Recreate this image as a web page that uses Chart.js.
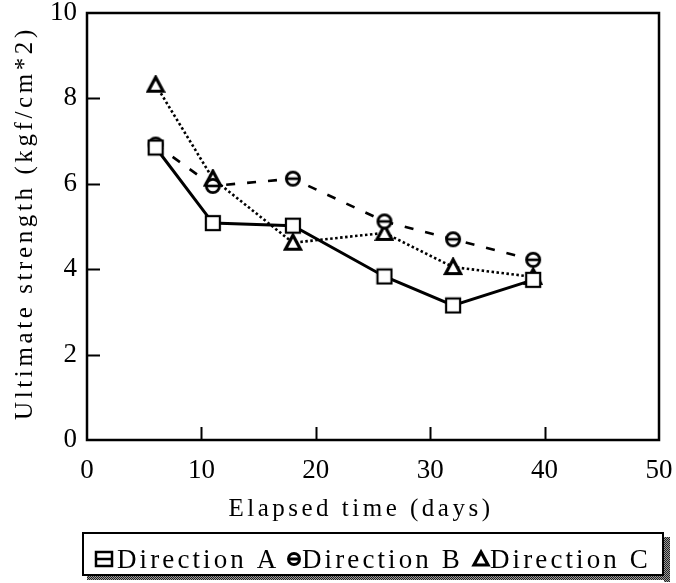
<!DOCTYPE html>
<html>
<head>
<meta charset="utf-8">
<script src="https://cdn.jsdelivr.net/npm/chart.js@4/dist/chart.umd.min.js"></script>
<style>
  html, body { margin: 0; padding: 0; background: #ffffff; }
  canvas { display: block; }
</style>
</head>
<body>
<canvas id="chart" width="676" height="583"></canvas>
<script>
// Elapsed time (days) at which each specimen set was tested
const days = [6, 11, 18, 26, 32, 39];
// Ultimate strength (kgf/cm*2) per loading direction
const directionA = [6.85, 5.08, 5.02, 3.83, 3.15, 3.75];
const directionB = [6.92, 5.95, 6.12, 5.12, 4.70, 4.22];
const directionC = [8.32, 6.12, 4.62, 4.85, 4.05, 3.82];
const seriesNames = ['Direction A', 'Direction B', 'Direction C'];
const xTicks = [0, 10, 20, 30, 40, 50];
const yTicks = [0, 2, 4, 6, 8, 10];
const xTitle = 'Elapsed time (days)';
const yTitle = 'Ultimate strength (kgf/cm*2)';

const INK = '#000000';
const TICK_FONT = '"Liberation Serif", "Times New Roman", serif';
const TEXT_FONT = '"Liberation Serif", "Times New Roman", serif';

// ---- marker sprites -------------------------------------------------------
function sprite(size, draw) {
  const c = document.createElement('canvas');
  c.width = size; c.height = size;
  const g = c.getContext('2d');
  g.strokeStyle = INK; g.fillStyle = '#ffffff';
  draw(g, size);
  return c;
}
const squareMark = sprite(18, (g) => {
  g.lineWidth = 2.2;
  g.fillRect(2, 2, 14, 14);
  g.strokeRect(2, 2, 14, 14);
});
const circleMark = sprite(18, (g) => {
  g.lineWidth = 2.8;
  g.beginPath(); g.arc(9, 9, 6.6, 0, Math.PI * 2); g.fill(); g.stroke();
  g.lineWidth = 2.6;
  g.beginPath(); g.moveTo(3, 9); g.lineTo(15, 9); g.stroke();
});
const triangleMark = sprite(20, (g) => {
  g.lineWidth = 3.2;
  g.lineJoin = 'miter';
  g.beginPath(); g.moveTo(10, 2.5); g.lineTo(17.5, 16.5); g.lineTo(2.5, 16.5); g.closePath();
  g.fill(); g.stroke();
});

function points(ys) { return days.map((d, i) => ({ x: d, y: ys[i] })); }

// ---- plot frame, inward ticks, axis titles and legend ---------------------
const framePlugin = {
  id: 'frame',
  afterDraw(chart) {
    const { ctx, chartArea: a, scales } = chart;
    ctx.save();
    ctx.strokeStyle = INK;
    ctx.lineWidth = 2.5;
    ctx.strokeRect(a.left, a.top, a.right - a.left, a.bottom - a.top);

    // inward tick marks
    ctx.lineWidth = 2;
    ctx.beginPath();
    xTicks.slice(1, -1).forEach(v => {
      const px = Math.round(scales.x.getPixelForValue(v)) + 0.5;
      ctx.moveTo(px, a.bottom); ctx.lineTo(px, a.bottom - 13);
    });
    yTicks.slice(1, -1).forEach(v => {
      const py = Math.round(scales.y.getPixelForValue(v)) + 0.5;
      ctx.moveTo(a.left, py); ctx.lineTo(a.left + 13, py);
    });
    ctx.stroke();

    // axis titles
    ctx.fillStyle = INK;
    ctx.font = '25px ' + TEXT_FONT;
    ctx.textBaseline = 'alphabetic';
    ctx.textAlign = 'center';
    ctx.letterSpacing = '3.5px';
    ctx.fillText(xTitle, 361, 516);
    ctx.save();
    ctx.translate(32, 223);
    ctx.rotate(-Math.PI / 2);
    ctx.letterSpacing = '3.6px';
    ctx.fillText(yTitle, 0, 0);
    ctx.restore();

    // legend box with its shadow
    const box = { x: 83, y: 533, w: 580, h: 42 };
    const shade = document.createElement('canvas');
    shade.width = 2; shade.height = 2;
    const sg = shade.getContext('2d');
    sg.fillStyle = '#222'; sg.fillRect(0, 0, 1, 1); sg.fillRect(1, 1, 1, 1);
    sg.fillStyle = '#9a9a9a'; sg.fillRect(1, 0, 1, 1); sg.fillRect(0, 1, 1, 1);
    ctx.fillStyle = ctx.createPattern(shade, 'repeat');
    ctx.fillRect(box.x + box.w + 1, box.y + 4, 6, box.h + 3);
    ctx.fillRect(box.x + 4, box.y + box.h + 1, box.w + 3, 4);
    ctx.fillStyle = '#ffffff';
    ctx.fillRect(box.x, box.y, box.w, box.h);
    ctx.lineWidth = 2;
    ctx.strokeStyle = INK;
    ctx.strokeRect(box.x, box.y, box.w, box.h);

    const base = 568;
    const items = [
      { sym: 'square', sx: 104, tx: 117 },
      { sym: 'circle', sx: 294, tx: 302 },
      { sym: 'triangle', sx: 481, tx: 490 }
    ];
    ctx.font = '27px ' + TEXT_FONT;
    ctx.letterSpacing = '3.1px';
    ctx.textAlign = 'left';
    ctx.fillStyle = INK;
    items.forEach((it, i) => {
      const cy = 559;
      ctx.lineWidth = 2.5;
      ctx.strokeStyle = INK;
      if (it.sym === 'square') {
        ctx.strokeRect(it.sx - 8, cy - 7, 16, 14);
        ctx.beginPath(); ctx.moveTo(it.sx - 8, cy); ctx.lineTo(it.sx + 8, cy); ctx.stroke();
      } else if (it.sym === 'circle') {
        ctx.lineWidth = 3;
        ctx.beginPath(); ctx.arc(it.sx, cy, 5.5, 0, Math.PI * 2); ctx.stroke();
        ctx.beginPath(); ctx.moveTo(it.sx - 6, cy); ctx.lineTo(it.sx + 6, cy); ctx.stroke();
      } else {
        ctx.lineWidth = 3.2;
        ctx.beginPath();
        ctx.moveTo(it.sx, cy - 7); ctx.lineTo(it.sx + 7, cy + 6); ctx.lineTo(it.sx - 7, cy + 6);
        ctx.closePath(); ctx.stroke();
      }
      ctx.fillText(seriesNames[i], it.tx, base);
    });
    ctx.letterSpacing = '0px';
    ctx.restore();
  }
};

// tick marks are drawn inward by the plugin; the library's own tick length
// only serves as spacing between axis line and labels
const hiddenGrid = (len) => ({
  display: true, drawOnChartArea: false, drawTicks: true,
  tickLength: len, color: 'rgba(0,0,0,0)'
});

new Chart(document.getElementById('chart'), {
  type: 'line',
  data: {
    datasets: [
      {
        label: seriesNames[0], data: points(directionA),
        borderColor: INK, borderWidth: 3, pointStyle: squareMark
      },
      {
        label: seriesNames[1], data: points(directionB),
        borderColor: INK, borderWidth: 2.6, borderDash: [9, 12], pointStyle: circleMark
      },
      {
        label: seriesNames[2], data: points(directionC),
        borderColor: INK, borderWidth: 2.6, borderDash: [2.5, 2.5], pointStyle: triangleMark
      }
    ]
  },
  options: {
    responsive: false,
    devicePixelRatio: 1,
    animation: false,
    layout: { padding: { left: 0, top: 13, right: 17, bottom: 0 } },
    plugins: { legend: { display: false }, tooltip: { enabled: false } },
    elements: {
      line: { tension: 0, fill: false },
      point: { radius: 8, hoverRadius: 8 }
    },
    scales: {
      x: {
        type: 'linear', min: 0, max: 50,
        afterBuildTicks: (s) => { s.ticks = xTicks.map(v => ({ value: v })); },
        afterFit: (s) => { s.height = 143; },
        grid: hiddenGrid(17),
        border: { display: false },
        ticks: { color: INK, padding: 0, font: { family: TICK_FONT, size: 27, lineHeight: 1 } }
      },
      y: {
        type: 'linear', min: 0, max: 10,
        afterBuildTicks: (s) => { s.ticks = yTicks.map(v => ({ value: v })); },
        afterFit: (s) => { s.width = 87; },
        grid: hiddenGrid(10),
        border: { display: false },
        ticks: { color: INK, padding: 0, font: { family: TICK_FONT, size: 27, lineHeight: 0.9 } }
      }
    }
  },
  plugins: [framePlugin]
});
</script>
</body>
</html>
